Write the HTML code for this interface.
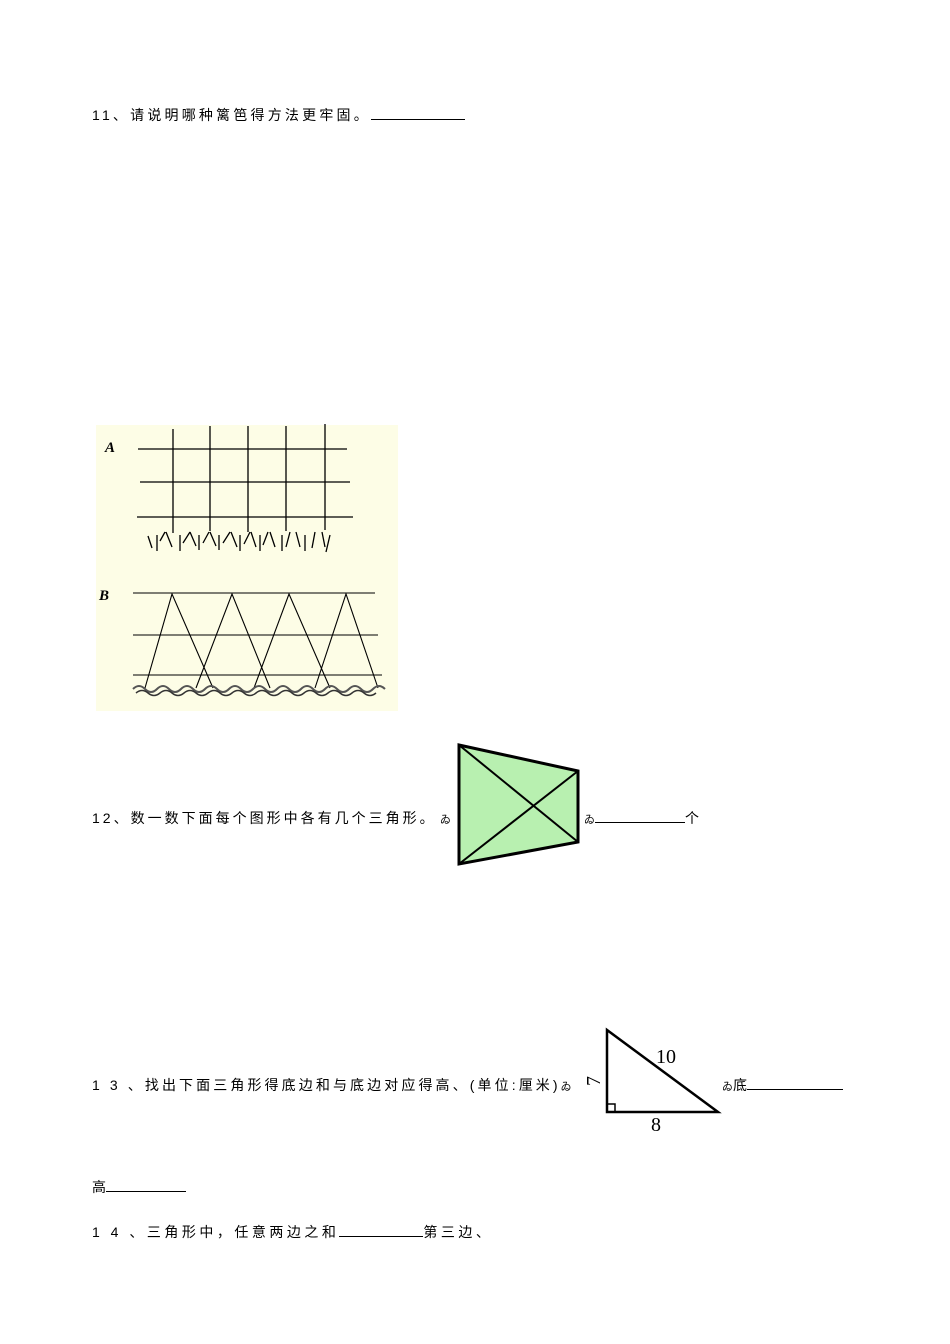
<!DOCTYPE html>
<html><head><meta charset="utf-8"><style>
body{margin:0;background:#fff;width:950px;height:1344px;position:relative;overflow:hidden;font-family:"Liberation Sans","Noto Sans CJK SC",sans-serif;font-size:14px;color:#000}
.t{position:absolute;white-space:nowrap;letter-spacing:3px;line-height:16px}
.u{display:inline-block;border-bottom:1px solid #000;height:12px;vertical-align:baseline}
</style></head><body>
<div class="t" style="left:92px;top:107px;letter-spacing:3.2px">11、请说明哪种篱笆得方法更牢固。<span class="u" style="width:94px"></span></div>

<svg style="position:absolute;left:0;top:0" width="950" height="1344">
<rect x="96" y="425" width="302" height="286" fill="#fdfde6"/>
<text x="105" y="452" font-family="Liberation Serif" font-style="italic" font-weight="bold" font-size="15">A</text>
<g stroke="#000" stroke-width="1.3">
<line x1="138" y1="449" x2="347" y2="449"/><line x1="140" y1="482" x2="350" y2="482"/><line x1="137" y1="517" x2="353" y2="517"/>
<line x1="173" y1="429" x2="173" y2="533"/><line x1="210" y1="426" x2="210" y2="531"/><line x1="248" y1="426" x2="248" y2="532"/><line x1="286" y1="426" x2="286" y2="531"/><line x1="325" y1="424" x2="325" y2="530"/>
<path d="M148 536 L152 548 M157 535 L157 551 M160 541 L165 532 M166 532 L172 547 M180 535 L180 551 M183 543 L190 532 M190 532 L196 546 M199 535 L199 550 M203 543 L209 532 M210 532 L216 546 M219 535 L219 550 M223 543 L230 532 M231 532 L237 547 M240 535 L240 551 M244 544 L250 532 M251 532 L256 547 M260 535 L260 551 M263 545 L268 532 M270 532 L275 547 M282 535 L282 551 M286 547 L290 532 M296 532 L300 547 M305 535 L305 551 M312 548 L315 532 M322 532 L325 547 M330 535 L326 552" fill="none"/>
</g>
<text x="99" y="600" font-family="Liberation Serif" font-style="italic" font-weight="bold" font-size="15">B</text>
<g stroke="#000" stroke-width="1.1" fill="none">
<line x1="133" y1="593" x2="375" y2="593"/><line x1="133" y1="635" x2="378" y2="635"/><line x1="133" y1="675" x2="382" y2="675"/>
<path d="M145 688 L172 594 L213 688 M196 688 L232 594 L270 688 M254 688 L289 594 L330 688 M315 688 L346 594 L378 688"/>
<path d="M133 689 q6 -6 12 0 t12 0 t12 0 t12 0 t12 0 t12 0 t12 0 t12 0 t12 0 t12 0 t12 0 t12 0 t12 0 t12 0 t12 0 t12 0 t12 0 t12 0 t12 0 t12 0 t12 0" stroke-width="2" stroke="#555"/>
<path d="M136 693 q6 -5 12 0 t12 0 t12 0 t12 0 t12 0 t12 0 t12 0 t12 0 t12 0 t12 0 t12 0 t12 0 t12 0 t12 0 t12 0 t12 0 t12 0 t12 0 t12 0 t12 0" stroke-width="1.5" stroke="#333"/>
</g>

<polygon points="459,745 578,771 578,842 459,864" fill="#b8f0b0" stroke="#000" stroke-width="3"/>
<line x1="459" y1="745" x2="578" y2="842" stroke="#000" stroke-width="2"/>
<line x1="459" y1="864" x2="578" y2="771" stroke="#000" stroke-width="2"/>

<g stroke="#000" stroke-width="2.5" fill="none">
<path d="M607 1030 L607 1112 L718 1112 Z"/>
<rect x="607" y="1104" width="8" height="8" stroke-width="1.5"/>
</g>
<text x="656" y="1063" font-family="Liberation Serif" font-size="20">10</text>
<text x="651" y="1131" font-family="Liberation Serif" font-size="20">8</text>
<text x="0" y="0" font-family="Liberation Serif" font-size="20" transform="translate(600,1086) rotate(-90)">7</text>
</svg>

<div class="t" style="left:92px;top:810px">12、数一数下面每个图形中各有几个三角形。</div>
<div class="t" style="left:440px;top:812px;font-size:11px">ゐ</div>
<div class="t" style="left:584px;top:810px;letter-spacing:0"><span style="font-size:11px">ゐ</span><span class="u" style="width:90px"></span>个</div>

<div class="t" style="left:92px;top:1077px;letter-spacing:3.1px">1 3 、找出下面三角形得底边和与底边对应得高、(单位:厘米)<span style="font-size:11px">ゐ</span></div>
<div class="t" style="left:722px;top:1077px;letter-spacing:0"><span style="font-size:11px">ゐ</span>底<span class="u" style="width:96px"></span></div>

<div class="t" style="left:92px;top:1179px;letter-spacing:0">高<span class="u" style="width:80px"></span></div>
<div class="t" style="left:92px;top:1224px;letter-spacing:3.5px">1 4 、三角形中，任意两边之和<span class="u" style="width:84px"></span>第三边、</div>
</body></html>
